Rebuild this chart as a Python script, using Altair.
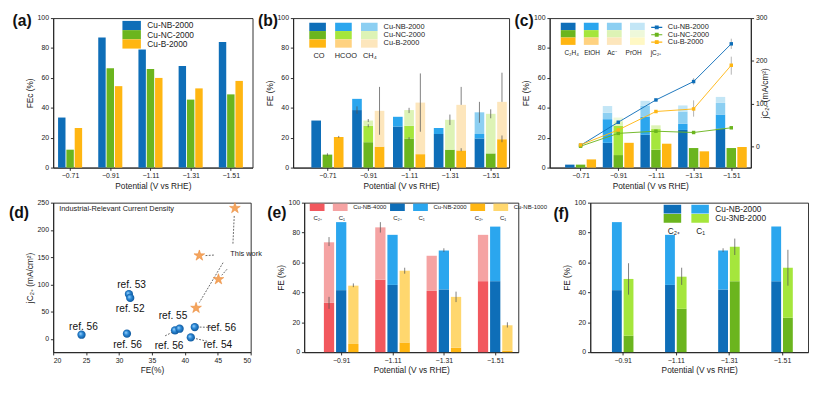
import altair as alt
import pandas as pd

FONT = "Liberation Sans"
SP = "\u00A0"

potentials = ["−0.71", "−0.91", "−1.11", "−1.31", "−1.51"]
potentials_ef = ["−0.91", "−1.11", "−1.31", "−1.51"]

# ---------------- (a) FE of carbon products
a_catalysts = ["Cu-NB-2000", "Cu-NC-2000", "Cu-B-2000"]
a_nb = [33.5, 87.0, 79.0, 68.0, 84.0]
a_nc = [12.0, 66.5, 66.0, 45.5, 49.0]
a_b = [26.5, 54.5, 60.0, 53.0, 58.0]

# ---------------- (b) C1 products
b_products = ["CO", "HCOO", "CH₄"]
b_nb_co = [31.5, 38.5, 27.5, 22.5, 19.5]
b_nb_hcoo = [0.0, 7.5, 6.5, 4.0, 3.0]
b_nb_ch4 = [0.0, 0.0, 0.0, 0.0, 14.5]
b_nc_co = [8.7, 17.0, 19.5, 12.0, 9.5]
b_nc_hcoo = [0.0, 11.0, 8.5, 0.0, 0.0]
b_nc_ch4 = [0.0, 3.5, 10.5, 20.0, 26.5]
b_b_co = [20.5, 14.0, 9.0, 11.5, 19.0]
b_b_hcoo = [0.0, 0.0, 0.0, 0.0, 0.0]
b_b_ch4 = [0.0, 24.0, 34.5, 30.5, 25.0]
b_err_pot = ["−0.71", "−0.71", "−0.91", "−0.91", "−0.91", "−0.91", "−1.11", "−1.11", "−1.11",
             "−1.31", "−1.31", "−1.31", "−1.51", "−1.51", "−1.51", "−1.51"]
b_err_cat = ["Cu-NC-2000", "Cu-B-2000", "Cu-NB-2000", "Cu-NC-2000", "Cu-NC-2000", "Cu-B-2000",
             "Cu-NC-2000", "Cu-NC-2000", "Cu-B-2000", "Cu-NC-2000", "Cu-B-2000", "Cu-B-2000",
             "Cu-NB-2000", "Cu-NC-2000", "Cu-B-2000", "Cu-B-2000"]
b_err_lo = [7.8, 20.0, 36.0, 27.0, 30.5, 22.0, 18.8, 36.5, 24.0, 28.5, 11.0, 42.0, 30.0, 33.0, 17.0, 44.0]
b_err_hi = [9.6, 21.2, 41.0, 29.0, 32.5, 54.0, 20.3, 40.0, 63.0, 35.5, 13.0, 54.0, 44.0, 39.0, 21.5, 63.5]

# ---------------- (c) C2+ products and partial current density
c_products = ["C₂H₄", "EtOH", "Ac⁻", "PrOH"]
c_nb_c2h4 = [2.0, 16.6, 22.0, 25.2, 26.2]
c_nb_etoh = [0.0, 15.8, 12.0, 4.1, 9.3]
c_nb_ac = [0.0, 4.3, 7.5, 8.2, 7.8]
c_nb_proh = [0.0, 4.5, 3.2, 4.1, 4.0]
c_nc_c2h4 = [2.0, 8.4, 12.0, 13.1, 13.1]
c_nc_etoh = [0.0, 19.6, 13.8, 0.0, 0.0]
c_nc_ac = [0.0, 3.0, 2.5, 0.0, 0.0]
c_nc_proh = [0.0, 2.5, 0.0, 0.0, 0.0]
c_b_c2h4 = [5.5, 16.6, 16.0, 10.9, 13.8]
c_b_etoh = [0.0, 0.0, 0.0, 0.0, 0.0]
c_b_ac = [0.0, 0.0, 0.0, 0.0, 0.0]
c_b_proh = [0.0, 0.0, 0.0, 0.0, 0.0]
c_j_nb = [3.0, 57.0, 109.0, 152.0, 240.0]
c_j_nc = [1.0, 31.0, 36.0, 33.0, 44.0]
c_j_b = [4.0, 39.0, 82.0, 88.0, 190.0]
c_jerr_pot = ["−1.31", "−1.51", "−1.31", "−1.51"]
c_jerr_lo = [145.0, 228.0, 70.0, 168.0]
c_jerr_hi = [160.0, 252.0, 108.0, 210.0]

# ---------------- (d) comparison with literature
d_ref_fe = [31.5, 31.7, 24.3, 31.2, 38.5, 39.2, 41.5, 40.9]
d_ref_j = [82.5, 75.5, 8.0, 10.0, 16.0, 19.0, 22.0, 3.0]
d_lab_text = ["ref. 53", "ref. 52", "ref. 56", "ref. 56", "ref. 55", "ref. 56", "ref. 56", "ref. 54"]
d_lab_fe = [31.9, 31.7, 24.6, 31.3, 38.2, 37.6, 45.6, 45.0]
d_lab_j = [99.0, 55.6, 21.7, -11.7, 42.7, -13.5, 20.5, -11.0]
d_work_fe = [47.6, 42.2, 45.1, 41.7]
d_work_j = [240.0, 153.0, 109.5, 57.0]
d_arrow_x = [44.4, 47.3, 46.4, 45.8, 37.0, 44.0, 43.4]
d_arrow_y = [154.0, 175.0, 128.0, 140.0, 6.0, 21.5, -4.0]
d_arrow_x2 = [43.1, 47.5, 45.6, 42.2, 38.1, 42.2, 41.4]
d_arrow_y2 = [153.0, 226.0, 117.0, 67.0, 12.5, 22.0, 1.5]

# ---------------- (e) Cu-NB-4000 / 2000 / 1000
e_catalysts = ["Cu-NB-4000", "Cu-NB-2000", "Cu-NB-1000"]
e_classes = ["C₂₊", "C₁"]
e_4000_c2 = [33.0, 48.5, 41.0, 47.5]
e_4000_c1 = [40.5, 35.0, 23.5, 31.0]
e_2000_c2 = [41.5, 45.0, 42.0, 47.5]
e_2000_c1 = [45.5, 33.5, 26.0, 36.5]
e_1000_c2 = [5.5, 6.5, 3.0, 1.0]
e_1000_c1 = [39.0, 48.0, 34.0, 17.0]
e_err_pot = ["−0.91", "−0.91", "−1.11", "−1.31", "−0.91", "−1.11", "−1.31", "−1.51"]
e_err_cat = ["Cu-NB-4000", "Cu-NB-4000", "Cu-NB-4000", "Cu-NB-2000", "Cu-NB-1000", "Cu-NB-1000",
             "Cu-NB-1000", "Cu-NB-1000"]
e_err_lo = [29.0, 71.0, 80.0, 67.0, 43.5, 52.5, 33.5, 16.5]
e_err_hi = [37.0, 77.0, 87.0, 69.5, 46.0, 56.5, 40.5, 20.0]

# ---------------- (f) Cu-NB-2000 vs Cu-3NB-2000
f_catalysts = ["Cu-NB-2000", "Cu-3NB-2000"]
f_nb_c2 = [41.5, 45.0, 42.0, 47.5]
f_nb_c1 = [45.5, 33.5, 26.0, 36.5]
f_3nb_c2 = [11.0, 29.0, 47.5, 23.0]
f_3nb_c1 = [38.0, 21.5, 23.0, 33.5]
f_err_pot = ["−0.91", "−1.11", "−1.31", "−1.51", "−1.31"]
f_err_cat = ["Cu-3NB-2000", "Cu-3NB-2000", "Cu-3NB-2000", "Cu-3NB-2000", "Cu-NB-2000"]
f_err_lo = [38.5, 45.0, 65.0, 44.5, 67.0]
f_err_hi = [59.5, 56.5, 76.0, 68.5, 69.5]

# ---------------- colours
BLUE = ["#0E6EB8", "#2BA6EE", "#8CCFF2", "#C3E6F6"]
GREEN = ["#6BB51E", "#A5E63C", "#DDF3B5", "#EEF8DA"]
YELLOW = ["#FFB612", "#FFD280", "#FDE6BC", "#FFF8C4"]
RED = ["#F2585E", "#F5A3A3"]

RECT = "M-2,-1H2V1H-2Z"

WA, WB, WC = 216, 234, 218
WD, WE, WF = 214, 232, 236
HT, HB = 162, 162


def group_pos(pots, cats, spacing, width):
    """Index-based layout of grouped bars: group centre = potential index."""
    out = {}
    k = len(cats)
    for i, pot in enumerate(pots):
        for j, cat in enumerate(cats):
            c = i + (j - (k - 1) / 2) * spacing
            out[(pot, cat)] = (c, c - width / 2, c + width / 2)
    return out


def stacked(pots, cats, prods, values, spacing, width):
    pos = group_pos(pots, cats, spacing, width)
    rows = []
    for cat in cats:
        for i, pot in enumerate(pots):
            base = 0.0
            c, l, r = pos[(pot, cat)]
            for prod, series in zip(prods, values[cat]):
                v = series[i]
                rows.append({"xl": l, "xr": r, "key": cat + "|" + prod, "lo": base, "hi": base + v})
                base += v
    return pd.DataFrame(rows)


def xq(field, pots, dom):
    expr = "[" + ",".join("'" + p + "'" for p in pots) + "][datum.value]"
    return alt.X(field + ":Q", scale=alt.Scale(domain=dom, nice=False, zero=False),
                 axis=alt.Axis(title="Potential (V vs RHE)", values=list(range(len(pots))),
                               labelExpr=expr))


def fe_y(field, title="FE (%)"):
    return alt.Y(field + ":Q", scale=alt.Scale(domain=[0, 100], nice=False),
                 axis=alt.Axis(title=title, values=[0, 20, 40, 60, 80, 100], labelOverlap=False))


def panel_label(txt, dx, dy=-4):
    return alt.Chart(pd.DataFrame({"t": [txt]})).mark_text(
        fontSize=17, fontWeight="bold", font=FONT, align="left", baseline="top", color="#111"
    ).encode(text="t:N", x=alt.value(dx), y=alt.value(dy))


def err_layer(pots, cats, lo, hi, dom_pots, dom_cats, spacing, width, xdom):
    pos = group_pos(dom_pots, dom_cats, spacing, width)
    df = pd.DataFrame({"xc": [pos[(p, c)][0] for p, c in zip(pots, cats)], "lo": lo, "hi": hi})
    return alt.Chart(df).mark_rule(color="#555", strokeWidth=0.8).encode(
        x=xq("xc", dom_pots, xdom), y=fe_y("lo"), y2="hi:Q")


def grid_legend(x, y, cols, size, title, label_expr, label_size=8):
    return alt.Legend(orient="none", legendX=x, legendY=y, columns=cols, direction="horizontal",
                      symbolType=RECT, symbolSize=size, symbolStrokeWidth=0, symbolOpacity=1,
                      labelExpr=label_expr, labelFontSize=label_size, labelOffset=(size ** 0.5) + 2,
                      title=title, titleOrient="bottom", titleFontSize=label_size,
                      titleFontWeight="normal", titleAnchor="start", titleLimit=600, rowPadding=0,
                      columnPadding=3)


# ================= (a)
A_SP, A_W, A_DOM = 0.207, 0.185, [-0.42, 4.54]
a_pos = group_pos(potentials, a_catalysts, A_SP, A_W)
a_df = pd.DataFrame([{"cat": c, "xl": a_pos[(p, c)][1], "xr": a_pos[(p, c)][2], "v": v, "zero": 0.0}
                     for c, vals in zip(a_catalysts, [a_nb, a_nc, a_b])
                     for p, v in zip(potentials, vals)])
a_bars = alt.Chart(a_df).mark_bar().encode(
    x=xq("xl", potentials, A_DOM), x2="xr:Q", y=fe_y("v", "FEc (%)"), y2="zero:Q",
    color=alt.Color("cat:N", sort=a_catalysts,
                    scale=alt.Scale(domain=a_catalysts, range=[BLUE[0], GREEN[0], YELLOW[0]]),
                    legend=alt.Legend(orient="none", legendX=80, legendY=3, title=None,
                                      symbolType=RECT, symbolSize=100, symbolStrokeWidth=0,
                                      symbolOpacity=1, labelFontSize=9, labelOffset=12,
                                      rowPadding=0)))
a_chart = alt.layer(a_bars, panel_label("(a)", -44)).properties(width=WA, height=HT)

# ================= (b)
B_SP, B_W, B_DOM = 0.276, 0.236, [-0.84, 4.45]
b_cats = a_catalysts
b_df = stacked(potentials, b_cats, b_products, {
    "Cu-NB-2000": [b_nb_co, b_nb_hcoo, b_nb_ch4],
    "Cu-NC-2000": [b_nc_co, b_nc_hcoo, b_nc_ch4],
    "Cu-B-2000": [b_b_co, b_b_hcoo, b_b_ch4]}, B_SP, B_W)
b_keys = [c + "|" + p for c in b_cats for p in b_products]
b_colors = BLUE[:3] + GREEN[:3] + YELLOW[:3]
b_bars = alt.Chart(b_df).mark_bar().encode(
    x=xq("xl", potentials, B_DOM), x2="xr:Q", y=fe_y("hi"), y2="lo:Q",
    color=alt.Color("key:N", scale=alt.Scale(domain=b_keys, range=b_colors),
                    legend=grid_legend(22, 5, 3, 81,
                                       "CO" + SP * 5 + "HCOO" + SP * 3 + "CH₄",
                                       "indexof(datum.label,'CH₄')>=0 ? split(datum.label,'|')[0] : ''",
                                       label_size=8)))
b_err = err_layer(b_err_pot, b_err_cat, b_err_lo, b_err_hi, potentials, b_cats, B_SP, B_W, B_DOM)
b_chart = alt.layer(b_bars, b_err, panel_label("(b)", -38)).properties(width=WB, height=HT)

# ================= (c)
C_SP, C_W, C_DOM = 0.286, 0.25, [-0.82, 4.52]
c_df = stacked(potentials, b_cats, c_products, {
    "Cu-NB-2000": [c_nb_c2h4, c_nb_etoh, c_nb_ac, c_nb_proh],
    "Cu-NC-2000": [c_nc_c2h4, c_nc_etoh, c_nc_ac, c_nc_proh],
    "Cu-B-2000": [c_b_c2h4, c_b_etoh, c_b_ac, c_b_proh]}, C_SP, C_W)
c_keys = [c + "|" + p for c in b_cats for p in c_products]
c_colors = BLUE + GREEN + YELLOW
c_bars = alt.Chart(c_df).mark_bar().encode(
    x=xq("xl", potentials, C_DOM), x2="xr:Q", y=fe_y("hi"), y2="lo:Q",
    color=alt.Color("key:N", scale=alt.Scale(domain=c_keys, range=c_colors),
                    legend=grid_legend(16, 5, 4, 64,
                                       "C₂H₄" + SP * 3 + "EtOH" + SP * 4 + "Ac⁻" + SP * 5 + "PrOH" + SP * 5 + "jC₂₊",
                                       "''", label_size=7)))
c_j_df = pd.DataFrame([{"xc": float(i), "cat": c, "j": v}
                       for c, vals in zip(b_cats, [c_j_nb, c_j_nc, c_j_b])
                       for i, v in enumerate(vals)])
jscale = alt.Scale(domain=[-49, 300], nice=False)
jaxis = alt.Axis(title="jC₂₊ (mA/cm²)", orient="right", values=[0, 100, 200, 300], titleAngle=270,
                 titleBaseline="bottom")
c_lines = alt.Chart(c_j_df).mark_line(strokeWidth=1).encode(
    x=xq("xc", potentials, C_DOM),
    y=alt.Y("j:Q", scale=jscale, axis=jaxis),
    stroke=alt.Stroke("cat:N", sort=b_cats,
                      scale=alt.Scale(domain=b_cats, range=[BLUE[0], GREEN[0], YELLOW[0]]),
                      legend=alt.Legend(orient="none", legendX=112, legendY=6, title=None,
                                        symbolType="M-2,0H2M-0.5,-0.5H0.5V0.5H-0.5Z",
                                        symbolSize=36, symbolStrokeWidth=1.2,
                                        labelFontSize=8, labelOffset=8, rowPadding=0)))
c_pts = alt.Chart(c_j_df).mark_point(shape="square", filled=True, size=14, opacity=1).encode(
    x=xq("xc", potentials, C_DOM), y=alt.Y("j:Q", scale=jscale, axis=jaxis),
    fill=alt.Fill("cat:N", sort=b_cats,
                  scale=alt.Scale(domain=b_cats, range=[BLUE[0], GREEN[0], YELLOW[0]]), legend=None))
c_jerr = alt.Chart(pd.DataFrame({"xc": [float(potentials.index(p)) for p in c_jerr_pot],
                                 "lo": c_jerr_lo, "hi": c_jerr_hi})).mark_rule(
    color="#999", strokeWidth=0.8).encode(
    x=xq("xc", potentials, C_DOM), y=alt.Y("lo:Q", scale=jscale, axis=jaxis), y2="hi:Q")
c_left = alt.layer(c_bars, panel_label("(c)", -38))
c_right = alt.layer(c_lines, c_jerr, c_pts)
c_chart = alt.layer(c_left, c_right).resolve_scale(y="independent").properties(width=WC, height=HT)

# ================= (d)
dx = alt.X("fe:Q", scale=alt.Scale(domain=[20, 50], nice=False),
           axis=alt.Axis(title="FE(%)", values=[20, 25, 30, 35, 40, 45, 50]))
dy = alt.Y("j:Q", scale=alt.Scale(domain=[-24, 250], nice=False),
           axis=alt.Axis(title="jC₂₊ (mA/cm²)", values=[0, 50, 100, 150, 200, 250]))
d_ref_df = pd.DataFrame({"fe": d_ref_fe, "j": d_ref_j})
d_lab_df = pd.DataFrame({"fe": d_lab_fe, "j": d_lab_j, "t": d_lab_text})
d_work_df = pd.DataFrame({"fe": d_work_fe, "j": d_work_j})
d_arr_df = pd.DataFrame({"fe": d_arrow_x, "j": d_arrow_y, "fe2": d_arrow_x2, "j2": d_arrow_y2})
sphere = alt.RadialGradient(gradient="radial",
                            stops=[alt.GradientStop(offset=0, color="#A9DBFF"),
                                   alt.GradientStop(offset=0.45, color="#2C8AD8"),
                                   alt.GradientStop(offset=1, color="#0A4F92")],
                            x1=0.35, y1=0.35, r1=0, x2=0.5, y2=0.5, r2=0.55)
d_arrows = alt.Chart(d_arr_df).mark_rule(strokeDash=[2, 1.5], color="#333", strokeWidth=0.8).encode(
    x=dx, y=dy, x2="fe2:Q", y2="j2:Q")
d_pts = alt.Chart(d_ref_df).mark_circle(size=80, opacity=1, color=sphere).encode(x=dx, y=dy)
star = ("M0,-1L0.2245,-0.309L0.951,-0.309L0.363,0.118L0.588,0.809L0,0.382L-0.588,0.809"
        "L-0.363,0.118L-0.951,-0.309L-0.2245,-0.309Z")
d_stars = alt.Chart(d_work_df).mark_point(shape=star, filled=True, size=150, opacity=1,
                                          color="#F5A55E", stroke="#E98A3B", strokeWidth=0.6).encode(x=dx, y=dy)
d_labels = alt.Chart(d_lab_df).mark_text(fontSize=11, font=FONT, color="#111").encode(
    x=dx, y=dy, text="t:N")
d_notes = alt.Chart(pd.DataFrame({"fe": [20.9, 46.9], "j": [238.0, 156.0],
                                  "t": ["Industrial-Relevant Current Density", "This work"]})).mark_text(
    fontSize=8, font=FONT, align="left", color="#222").encode(x=dx, y=dy, text="t:N")
d_chart = alt.layer(d_arrows, d_pts, d_stars, d_labels, d_notes, panel_label("(d)", -48, 4)).properties(
    width=WD, height=HB)

# ================= (e)
E_SP, E_W, E_DOM = 0.237, 0.2, [-0.72, 3.45]
e_df = stacked(potentials_ef, e_catalysts, e_classes, {
    "Cu-NB-4000": [e_4000_c2, e_4000_c1],
    "Cu-NB-2000": [e_2000_c2, e_2000_c1],
    "Cu-NB-1000": [e_1000_c2, e_1000_c1]}, E_SP, E_W)
e_keys = [c + "|" + k for c in e_catalysts for k in e_classes]
e_colors = RED + BLUE[:2] + [YELLOW[0], "#FFD76E"]
e_title = (SP * 1 + "C₂₊" + SP * 10 + "C₁" + SP * 29 + "C₂₊" + SP * 10 + "C₁" + SP * 30 +
           "C₂₊" + SP * 10 + "C₁")
e_bars = alt.Chart(e_df).mark_bar().encode(
    x=xq("xl", potentials_ef, E_DOM), x2="xr:Q", y=fe_y("hi"), y2="lo:Q",
    color=alt.Color("key:N", scale=alt.Scale(domain=e_keys, range=e_colors),
                    legend=grid_legend(10, 1, 6, 64, e_title,
                                       "indexof(datum.label,'C₁')>=0 ? split(datum.label,'|')[0] : ''",
                                       label_size=6.5)))
e_err = err_layer(e_err_pot, e_err_cat, e_err_lo, e_err_hi, potentials_ef, e_catalysts, E_SP, E_W, E_DOM)
e_chart = alt.layer(e_bars, e_err, panel_label("(e)", -40, 4)).properties(width=WE, height=HB)

# ================= (f)
F_SP, F_W, F_DOM = 0.22, 0.185, [-0.61, 3.49]
f_df = stacked(potentials_ef, f_catalysts, e_classes, {
    "Cu-NB-2000": [f_nb_c2, f_nb_c1],
    "Cu-3NB-2000": [f_3nb_c2, f_3nb_c1]}, F_SP, F_W)
f_keys = [c + "|" + k for c in f_catalysts for k in e_classes]
f_colors = BLUE[:2] + GREEN[:2]
f_bars = alt.Chart(f_df).mark_bar().encode(
    x=xq("xl", potentials_ef, F_DOM), x2="xr:Q", y=fe_y("hi"), y2="lo:Q",
    color=alt.Color("key:N", scale=alt.Scale(domain=f_keys, range=f_colors),
                    legend=grid_legend(84, 2, 2, 90, SP * 3 + "C₂₊" + SP * 7 + "C₁",
                                       "indexof(datum.label,'C₁')>=0 ? split(datum.label,'|')[0] : ''",
                                       label_size=9)))
f_err = err_layer(f_err_pot, f_err_cat, f_err_lo, f_err_hi, potentials_ef, f_catalysts, F_SP, F_W, F_DOM)
f_chart = alt.layer(f_bars, f_err, panel_label("(f)", -40, 5)).properties(width=WF, height=HB)

RES = dict(color="independent", stroke="independent", fill="independent")
top = alt.hconcat(a_chart, b_chart, c_chart, spacing=4).resolve_scale(**RES)
bottom = alt.hconcat(d_chart, e_chart, f_chart, spacing=4).resolve_scale(**RES)
chart = alt.vconcat(top, bottom, spacing=8).resolve_scale(**RES).properties(
    padding={"top": -11, "left": 0, "right": 0, "bottom": 0}, background="white"
).configure_axis(
    labelFontSize=7.5, titleFontSize=9, titleFontWeight="normal", labelFont=FONT, titleFont=FONT,
    labelColor="#222", titleColor="#222", domainColor="#222", tickColor="#222", grid=False,
    tickSize=3, titlePadding=3, labelPadding=2
).configure_legend(labelFont=FONT, titleFont=FONT, labelColor="#222", titleColor="#222",
                   padding=0).configure_view(stroke="#222", strokeWidth=1)

chart.save("out.html", embed_options={"renderer": "svg", "actions": False})
